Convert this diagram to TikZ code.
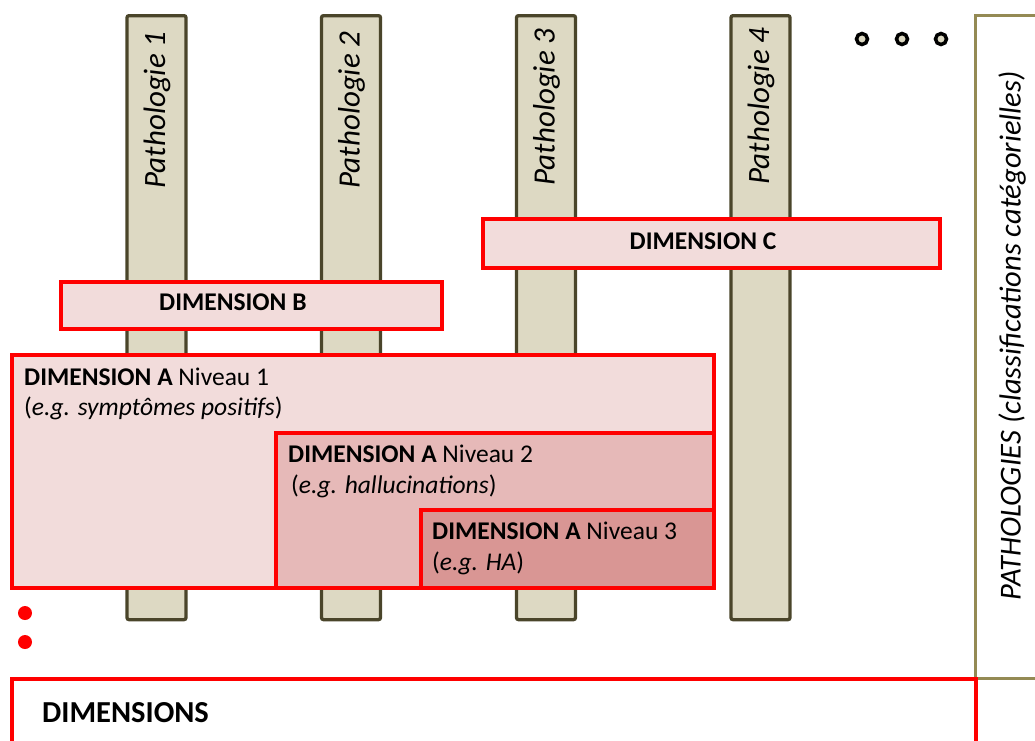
\documentclass[tikz,border=0pt]{standalone}
\usepackage{fontspec}
\setmainfont{Carlito}
\definecolor{barfill}{HTML}{DDD9C3}
\definecolor{barline}{HTML}{4A452A}
\definecolor{olive}{HTML}{948A54}
\definecolor{dimred}{HTML}{FF0000}
\definecolor{fillA}{HTML}{F2DCDB}
\definecolor{fillB}{HTML}{E6B9B8}
\definecolor{fillC}{HTML}{D99694}
\tikzset{
  bar/.style={draw=barline, fill=barfill, line width=3.3pt, rounded corners=2pt, inner sep=0pt, minimum width=59pt, minimum height=604pt, anchor=north},
  bartext/.style={rotate=90, font=\fontsize{31}{36}\selectfont\itshape, inner sep=0pt},
  dimbox/.style={draw=dimred, line width=3.5pt, inner sep=0pt, anchor=north west},
  dimtext/.style={font=\fontsize{25.5}{30}\selectfont, inner sep=0pt, anchor=base west},
  blackdot/.style={circle, draw=black, fill=barfill, line width=3.5pt, minimum size=11pt, inner sep=0pt},
  reddot/.style={circle, fill=dimred, minimum size=14pt, inner sep=0pt},
}
\begin{document}
\begin{tikzpicture}[x=1pt, y=-1pt]
\useasboundingbox (0,0) rectangle (1035,740);
\clip (0,0) rectangle (1035,740);
% pathology bars
\node[bar] (p1) at (156.5,14) {};
\node[bar] (p2) at (351,14) {};
\node[bar] (p3) at (546,14) {};
\node[bar] (p4) at (760.5,14) {};
\node[bartext] (t1) at (157,110) {Pathologie 1};
\node[bartext] (t2) at (351.5,110) {Pathologie 2};
\node[bartext] (t3) at (546.5,107) {Pathologie 3};
\node[bartext] (t4) at (761,106) {Pathologie 4};
% dots
\node[blackdot] (d1) at (862,39) {};
\node[blackdot] (d2) at (902,39) {};
\node[blackdot] (d3) at (941,39) {};
\node[reddot] (r1) at (25,613) {};
\node[reddot] (r2) at (25,642) {};
% right pathologies box
\node[draw=olive, line width=3.3pt, inner sep=0pt, anchor=north west, minimum width=80pt, minimum height=663pt] (path) at (974,14) {};
\node[rotate=90, font=\fontsize{30.5}{36}\selectfont\itshape, inner sep=0pt] (pathtext) at (1012,336) {PATHOLOGIES (classifications catégorielles)};
% dimension boxes
\node[dimbox, fill=fillA, minimum width=457pt, minimum height=49pt] (dc) at (481,217) {};
\node[font=\fontsize{25.5}{30}\selectfont\bfseries, inner sep=0pt, anchor=base] (dct) at (703,249) {DIMENSION C};
\node[dimbox, fill=fillA, minimum width=381pt, minimum height=47pt] (db) at (59,280) {};
\node[dimtext] (dbt) at (159,310) {\bfseries DIMENSION B};
\node[dimbox, fill=fillA, minimum width=702pt, minimum height=233pt] (a1) at (10,353) {};
\node[dimtext] (a1t) at (24,385) {\textbf{DIMENSION A} Niveau 1};
\node[dimtext] (a1e) at (24,415) {(\textit{e.g. symptômes positifs})};
\node[dimbox, fill=fillB, minimum width=438pt, minimum height=155pt] (a2) at (274,431) {};
\node[dimtext] (a2t) at (288,462) {\textbf{DIMENSION A} Niveau 2};
\node[dimtext] (a2e) at (291,493) {(\textit{e.g. hallucinations})};
\node[dimbox, fill=fillC, minimum width=293pt, minimum height=78pt] (a3) at (419,508) {};
\node[dimtext] (a3t) at (432,539) {\textbf{DIMENSION A} Niveau 3};
\node[dimtext] (a3e) at (432,570) {(\textit{e.g. HA})};
% dimensions box
\node[dimbox, minimum width=964pt, minimum height=90pt] (dims) at (10,677) {};
\node[font=\fontsize{30.5}{36}\selectfont\bfseries, inner sep=0pt, anchor=base west] (dimst) at (42,722) {DIMENSIONS};
\end{tikzpicture}
\end{document}
